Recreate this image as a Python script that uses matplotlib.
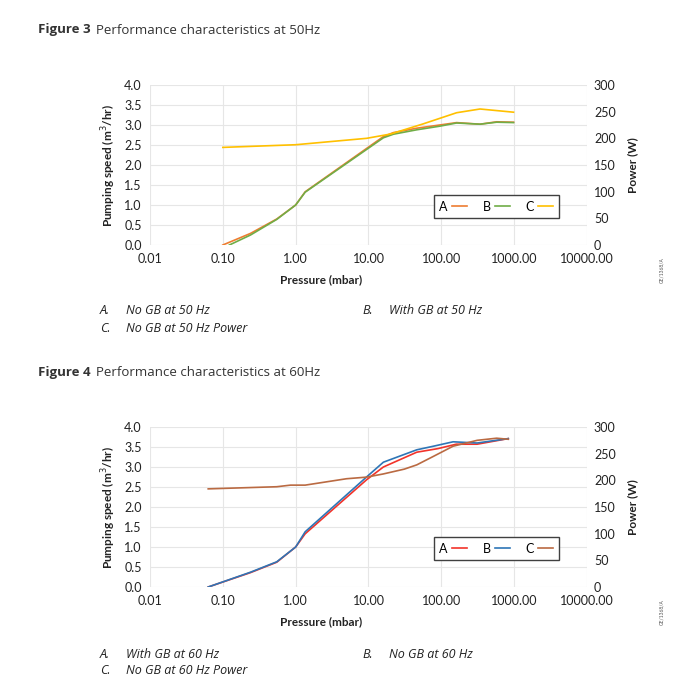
import matplotlib
matplotlib.use("Agg")
import matplotlib.pyplot as plt
from matplotlib.ticker import FixedLocator, FuncFormatter

plt.rcParams['font.family'] = ['Lato', 'DejaVu Sans']

# ---- data: Figure 3 (50 Hz) ----
p50_a = [0.10, 0.24, 0.55, 1.0, 1.35, 16, 22, 46, 95, 162, 340, 575, 980]
a50 = [0.0, 0.29, 0.65, 1.0, 1.33, 2.71, 2.81, 2.92, 3.0, 3.06, 3.02, 3.08, 3.07]
p50_b = [0.123, 0.24, 0.55, 1.0, 1.35, 16, 22, 46, 95, 162, 340, 575, 980]
b50 = [0.0, 0.25, 0.64, 1.0, 1.32, 2.68, 2.77, 2.88, 2.97, 3.05, 3.02, 3.07, 3.06]
p50_c = [0.10, 1.0, 9.4, 20, 56, 162, 340, 980]
c50 = [183, 188, 200, 208, 227, 248, 255, 249]

# ---- data: Figure 4 (60 Hz) ----
p60_a = [0.063, 0.24, 0.55, 1.0, 1.35, 9.4, 16, 46, 90, 160, 310, 830]
a60 = [0.0, 0.36, 0.62, 1.0, 1.33, 2.68, 3.0, 3.37, 3.46, 3.57, 3.57, 3.71]
p60_b = [0.063, 0.24, 0.55, 1.0, 1.35, 9.4, 16, 46, 78, 145, 310, 830]
b60 = [0.0, 0.37, 0.63, 1.0, 1.38, 2.75, 3.12, 3.43, 3.52, 3.63, 3.6, 3.71]
p60_c = [0.063, 0.55, 0.85, 1.35, 5, 9.4, 16, 31, 46, 78, 145, 310, 575, 830]
c60 = [184, 188, 191, 191, 203, 206, 212, 221, 229, 245, 264, 275, 279, 277]

x_ticks = [0.01, 0.1, 1, 10, 100, 1000, 10000]
left_ticks = [0.0, 0.5, 1.0, 1.5, 2.0, 2.5, 3.0, 3.5, 4.0]
right_ticks = [0, 50, 100, 150, 200, 250, 300]

W, H = 700, 700
fig = plt.figure(figsize=(7, 7), dpi=100)
txt = "#222222"
grid_c = "#e6e6e6"


def make_chart(top_px, bottom_px, series, colors):
    ax = fig.add_axes([150 / W, 1 - bottom_px / H, 437 / W, (bottom_px - top_px) / H])
    ax2 = ax.twinx()
    ax.set_xscale('log')
    ax.set_xlim(0.01, 10000)
    ax.set_ylim(0, 4)
    ax2.set_ylim(0, 300)
    ax.xaxis.set_major_locator(FixedLocator(x_ticks))
    ax.xaxis.set_minor_locator(FixedLocator([]))
    ax.xaxis.set_major_formatter(FuncFormatter(lambda v, p: "%.2f" % v))
    ax.set_yticks(left_ticks)
    ax.yaxis.set_major_formatter(FuncFormatter(lambda v, p: "%.1f" % v))
    ax2.set_yticks(right_ticks)
    ax.grid(True, color=grid_c, lw=0.8)
    for a in (ax, ax2):
        for s in a.spines.values():
            s.set_visible(False)
        a.tick_params(length=0, labelsize=9, colors=txt)
    ax.tick_params(axis='x', pad=6)
    ax.tick_params(axis='y', pad=6)
    ax2.tick_params(axis='y', pad=5)
    ax.set_axisbelow(True)

    (pa, ya), (pb, yb), (pc, yc) = series
    la, = ax.plot(pa, ya, color=colors[0], lw=1.2, label="A")
    lb, = ax.plot(pb, yb, color=colors[1], lw=1.2, label="B")
    lc, = ax2.plot(pc, yc, color=colors[2], lw=1.2, label="C")

    leg = ax2.legend(handles=[la, lb, lc], ncol=3, markerfirst=False,
                     loc='center', bbox_to_anchor=(0.792, 0.24),
                     fontsize=9, handlelength=1.2, handletextpad=0.3,
                     columnspacing=1.3, fancybox=False, framealpha=1,
                     borderpad=0.45, borderaxespad=0)
    leg.get_frame().set_edgecolor("#404040")
    leg.get_frame().set_linewidth(1.0)

    mid = (top_px + bottom_px) / 2
    fig.text(321 / W, 1 - (bottom_px + 35) / H, "Pressure (mbar)", ha='center', va='center',
             fontsize=8.5, fontweight='bold', color=txt)
    fig.text(109 / W, 1 - mid / H, "Pumping speed (m$^3$/hr)", rotation=90, ha='center',
             va='center', fontsize=8.5, fontweight='bold', color=txt)
    fig.text(633 / W, 1 - mid / H, "Power (W)", rotation=90, ha='center', va='center',
             fontsize=8.5, fontweight='bold', color=txt)
    fig.text(662 / W, 1 - (bottom_px + 25) / H, "GE/1368/A", rotation=90, ha='center',
             va='center', fontsize=3.5, color="#555555")


make_chart(85, 245, [(p50_a, a50), (p50_b, b50), (p50_c, c50)],
           ["#ED7D31", "#70AD47", "#FFC000"])
make_chart(427, 587, [(p60_a, a60), (p60_b, b60), (p60_c, c60)],
           ["#F2332A", "#2E75B6", "#BA6A42"])

# figure titles
for y_px, num, rest in [(30, "3", "Performance characteristics at 50Hz"),
                        (373, "4", "Performance characteristics at 60Hz")]:
    fig.text(38 / W, 1 - y_px / H, "Figure " + num,
             fontsize=9.5, fontweight='bold', color="#333333", va='center',
             family=['Open Sans', 'DejaVu Sans'])
    fig.text(96 / W, 1 - y_px / H, rest, fontsize=9.5, color="#333333", va='center',
             family=['Open Sans', 'DejaVu Sans'])

# captions
cap = dict(fontsize=9, style='italic', color=txt, va='center',
           family=['Open Sans', 'DejaVu Sans'])
for y_px, a_txt, b_txt, c_txt in [(311, "No GB at 50 Hz", "With GB at 50 Hz", "No GB at 50 Hz Power"),
                                  (654, "With GB at 60 Hz", "No GB at 60 Hz", "No GB at 60 Hz Power")]:
    fig.text(100 / W, 1 - y_px / H, "A.", **cap)
    fig.text(126 / W, 1 - y_px / H, a_txt, **cap)
    fig.text(100 / W, 1 - (y_px + 17) / H, "C.", **cap)
    fig.text(126 / W, 1 - (y_px + 17) / H, c_txt, **cap)
    fig.text(362 / W, 1 - y_px / H, "B.", **cap)
    fig.text(389 / W, 1 - y_px / H, b_txt, **cap)

fig.savefig("out.png", dpi=100)
